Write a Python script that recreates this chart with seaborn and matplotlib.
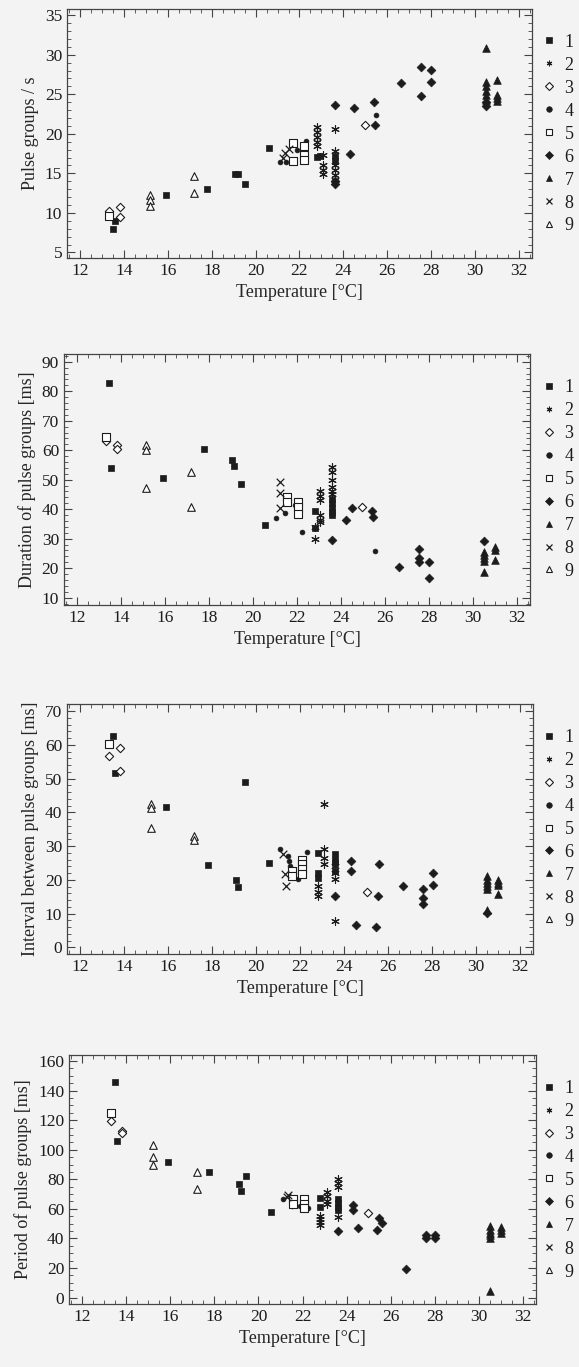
import matplotlib
matplotlib.use('Agg')
import matplotlib.pyplot as plt
import seaborn as sns
from matplotlib.lines import Line2D
from matplotlib.ticker import MultipleLocator

# series labels 1..9
series = ['1', '2', '3', '4', '5', '6', '7', '8', '9']

# Pulse groups / s
rate_t = [
    [13.5, 13.6, 15.9, 17.8, 19.05, 19.2, 19.5, 20.6, 22.8, 22.95, 23.6, 23.6],
    [22.8, 22.8, 22.8, 22.8, 22.8, 23.05, 23.05, 23.05, 23.05, 23.6, 23.6, 23.6, 23.6, 23.6, 23.6],
    [13.3, 13.8, 13.8, 25.0],
    [21.1, 21.4, 21.9, 22.3, 25.5],
    [13.3, 21.7, 21.7, 22.2, 22.2, 22.2],
    [23.6, 23.6, 23.6, 24.3, 24.5, 25.4, 25.45, 26.65, 27.55, 27.55, 28.0, 28.0, 30.5, 30.5],
    [30.5, 30.5, 30.5, 30.5, 30.5, 30.5, 31.0, 31.0, 31.0, 31.0],
    [21.25, 21.35, 21.5],
    [15.2, 15.2, 15.2, 17.2, 17.2],
]
rate_v = [
    [7.9, 9.0, 12.3, 13.0, 14.9, 14.9, 13.6, 18.2, 17.1, 17.2, 17.2, 16.6],
    [20.8, 20.2, 19.6, 19.0, 18.4, 17.3, 16.0, 15.4, 14.9, 20.6, 17.8, 16.0, 15.4, 14.8, 14.2],
    [10.2, 10.8, 9.5, 21.1],
    [16.4, 16.4, 17.9, 19.1, 22.4],
    [9.6, 18.8, 16.6, 18.4, 17.3, 16.7],
    [23.7, 14.0, 13.6, 17.4, 23.3, 24.0, 21.1, 26.4, 28.4, 24.8, 28.1, 26.6, 23.5, 24.0],
    [30.9, 26.6, 26.0, 25.4, 24.9, 24.3, 26.8, 24.9, 24.5, 24.1],
    [17.0, 17.6, 18.1],
    [12.3, 11.6, 10.9, 14.7, 12.5],
]

# Duration of pulse groups [ms]
dur_t = [
    [13.45, 13.55, 15.9, 17.75, 19.05, 19.15, 19.45, 20.55, 22.8, 22.8, 23.6, 23.6, 23.6, 23.6, 23.6],
    [22.8, 22.8, 23.05, 23.05, 23.05, 23.05, 23.05, 23.05, 23.6, 23.6, 23.6, 23.6, 23.6, 23.6],
    [13.3, 13.8, 13.8, 24.95],
    [21.05, 21.45, 21.9, 22.25, 25.55],
    [13.3, 21.55, 21.55, 22.05, 22.05, 22.05],
    [23.6, 24.25, 24.5, 25.4, 25.45, 26.65, 27.55, 27.55, 27.55, 28.0, 28.0, 30.5],
    [30.5, 30.5, 30.5, 30.5, 30.5, 31.0, 31.0, 31.0],
    [21.25, 21.25, 21.25],
    [15.15, 15.15, 15.15, 17.2, 17.2],
]
dur_v = [
    [82.9, 54.0, 50.6, 60.4, 56.8, 54.5, 48.6, 34.7, 39.5, 33.5, 43.5, 42.0, 40.5, 39.0, 38.0],
    [34.1, 29.8, 46.0, 44.5, 43.0, 38.0, 36.5, 35.5, 54.4, 52.5, 50.0, 47.5, 46.0, 45.0],
    [63.2, 61.8, 60.3, 40.6],
    [37.1, 38.6, 41.3, 32.2, 25.9],
    [64.6, 44.2, 42.5, 42.5, 40.8, 38.4],
    [29.6, 36.3, 40.3, 39.5, 37.5, 20.5, 26.5, 23.4, 22.2, 22.0, 16.6, 29.3],
    [25.5, 24.5, 23.5, 22.5, 18.8, 27.3, 26.2, 22.8],
    [49.3, 45.6, 40.3],
    [61.8, 60.1, 47.3, 52.7, 40.8],
]

# Interval between pulse groups [ms]
int_t = [
    [13.5, 13.6, 15.9, 17.8, 19.1, 19.2, 19.5, 20.6, 22.8, 22.8, 22.8, 23.6, 23.6, 23.6, 23.6],
    [22.8, 22.8, 22.8, 23.1, 23.1, 23.1, 23.1, 23.6, 23.6, 23.6, 23.6],
    [13.3, 13.8, 13.8, 25.05],
    [21.1, 21.45, 21.5, 21.55, 21.9, 22.3],
    [13.3, 21.65, 21.65, 22.1, 22.1, 22.1, 22.1],
    [23.6, 24.3, 24.3, 24.55, 25.45, 25.55, 25.6, 26.7, 27.6, 27.6, 27.6, 28.05, 28.05, 30.5],
    [30.5, 30.5, 30.5, 30.5, 30.5, 30.5, 31.0, 31.0, 31.0, 31.0],
    [21.25, 21.3, 21.35],
    [15.2, 15.2, 15.2, 17.2, 17.2],
]
int_v = [
    [62.6, 51.6, 41.6, 24.4, 20.0, 17.9, 49.1, 25.1, 28.0, 22.0, 20.5, 27.5, 26.0, 25.0, 22.5],
    [18.2, 16.5, 15.2, 42.6, 29.0, 26.5, 24.6, 24.1, 22.0, 20.1, 7.9],
    [56.7, 59.0, 52.3, 16.5],
    [29.2, 27.0, 25.5, 24.1, 20.3, 28.2],
    [60.2, 22.6, 21.1, 26.0, 24.6, 23.2, 21.8],
    [15.2, 25.6, 22.6, 6.7, 5.9, 15.2, 24.6, 18.2, 17.4, 14.7, 12.8, 21.9, 18.4, 10.2],
    [21.0, 20.0, 19.0, 18.2, 17.4, 11.0, 20.0, 19.0, 18.4, 15.7],
    [27.5, 21.6, 18.2],
    [42.6, 41.3, 35.4, 32.9, 31.9],
]

# Period of pulse groups [ms]
per_t = [
    [13.5, 13.6, 15.9, 17.75, 19.1, 19.2, 19.45, 20.55, 22.8, 22.8, 23.6, 23.6, 23.6, 23.6],
    [22.8, 22.8, 22.8, 22.8, 23.1, 23.1, 23.1, 23.1, 23.6, 23.6, 23.6, 23.6],
    [13.3, 13.8, 13.8, 24.95],
    [21.1, 21.5, 21.9, 22.25],
    [13.3, 21.55, 21.55, 22.05, 22.05, 22.05],
    [23.6, 24.3, 24.3, 24.5, 25.4, 25.45, 25.6, 26.7, 27.6, 27.6, 28.0, 28.0],
    [30.5, 30.5, 30.5, 30.5, 30.5, 30.5, 31.0, 31.0, 31.0],
    [21.3, 21.35],
    [15.2, 15.2, 15.2, 17.2, 17.2],
]
per_v = [
    [145.7, 105.9, 91.9, 84.9, 76.8, 72.1, 82.2, 57.9, 67.6, 61.5, 67.0, 64.0, 61.5, 59.3],
    [55.0, 53.0, 51.0, 49.0, 71.6, 68.5, 65.5, 63.0, 80.5, 77.5, 74.5, 54.3],
    [119.6, 112.6, 111.1, 57.4],
    [66.7, 62.2, 62.2, 60.4],
    [124.6, 66.7, 63.3, 66.7, 63.3, 60.4],
    [45.1, 62.5, 59.5, 47.0, 45.7, 53.6, 50.7, 19.2, 42.5, 40.5, 42.5, 40.5],
    [48.5, 46.0, 44.0, 42.0, 40.0, 4.5, 47.5, 45.5, 44.0],
    [68.2, 69.4],
    [103.2, 95.3, 89.7, 85.1, 73.2],
]

ink = '#1c1c1c'
bg = '#f3f3f3'

sns.set_theme(style='ticks')
plt.rcParams['font.family'] = ['Liberation Serif', 'DejaVu Serif']
plt.rcParams['axes.edgecolor'] = '#444444'
plt.rcParams['text.color'] = ink

# marker look per series: marker, size, face, edge, lw
looks = [
    ('s', 20, ink, ink, 0.5),
    ((6, 2, 0), 30, ink, ink, 0.8),
    ('D', 18, 'white', ink, 0.8),
    ('o', 12, ink, ink, 0.5),
    ('s', 30, 'white', ink, 0.8),
    ('D', 20, ink, ink, 0.5),
    ('^', 30, ink, ink, 0.5),
    ('x', 30, ink, ink, 0.9),
    ('^', 30, 'white', ink, 0.8),
]

panels = [
    (rate_t, rate_v, 'Pulse groups / s', (4.3, 35.8), 5, 1,
     [0.1157, 0.8113, 0.8031, 0.1822]),
    (dur_t, dur_v, 'Duration of pulse groups [ms]', (7.5, 92.6), 10, 2,
     [0.1105, 0.5574, 0.8048, 0.1836]),
    (int_t, int_v, 'Interval between pulse groups [ms]', (-2.0, 72.1), 10, 2,
     [0.1157, 0.3021, 0.8048, 0.1829]),
    (per_t, per_v, 'Period of pulse groups [ms]', (-4.3, 164.0), 20, 5,
     [0.1192, 0.0461, 0.8066, 0.1821]),
]

fig = plt.figure(figsize=(5.79, 13.67), dpi=100, facecolor=bg)

for temps, vals, ylab, ylim, major, minor, box in panels:
    ax = fig.add_axes(box)
    ax.set_facecolor(bg)
    for i in range(9):
        m, s, fc, ec, lw = looks[i]
        sns.scatterplot(x=temps[i], y=vals[i], ax=ax, marker=m, s=s,
                        facecolor=fc, edgecolor=ec, linewidth=lw,
                        legend=False, zorder=3)
    ax.set_xlim(11.4, 32.6)
    ax.set_ylim(*ylim)
    ax.xaxis.set_major_locator(MultipleLocator(2))
    ax.xaxis.set_minor_locator(MultipleLocator(0.5))
    ax.yaxis.set_major_locator(MultipleLocator(major))
    ax.yaxis.set_minor_locator(MultipleLocator(minor))
    ax.tick_params(which='both', direction='in', top=True, right=True,
                   colors='#444444', labelcolor=ink, labelsize=12.5)
    ax.tick_params(which='major', length=6, width=0.8)
    ax.tick_params(which='minor', length=3, width=0.6)
    for sp in ax.spines.values():
        sp.set_linewidth(0.9)
    ax.set_xlabel('Temperature [°C]', fontsize=13, labelpad=4)
    ax.set_ylabel(ylab, fontsize=13, labelpad=4)

    # legend in the right margin, axes width differs a little per panel
    x_anchor = 1 + (542 - (box[0] + box[2]) * 579) / (box[2] * 579)
    handles = []
    for m, s, fc, ec, lw in looks:
        handles.append(Line2D([], [], linestyle='none', marker=m, markersize=4,
                              markerfacecolor=fc, markeredgecolor=ec,
                              markeredgewidth=lw))
    ax.legend(handles, series, loc='upper left', bbox_to_anchor=(x_anchor, 0.90),
              frameon=False, fontsize=13, handlelength=0.8, handletextpad=0.45,
              labelspacing=0.33, borderaxespad=0, borderpad=0)

fig.savefig('out.png', dpi=100, facecolor=bg)
